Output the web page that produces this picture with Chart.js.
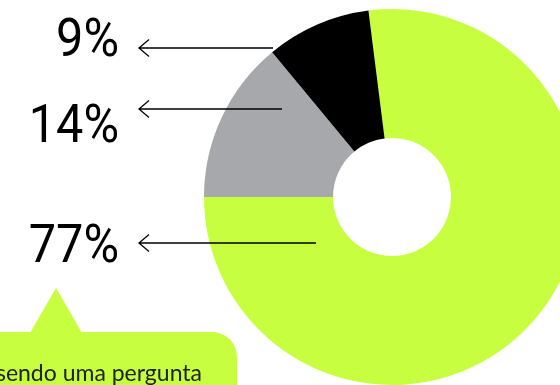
<!DOCTYPE html>
<html>
<head>
<meta charset="utf-8">
<script src="https://cdn.jsdelivr.net/npm/chart.js@4"></script>
<style>
  html, body { margin: 0; padding: 0; background: #fff; }
  body { width: 560px; height: 385px; overflow: hidden; position: relative; }
  #wrap { position: absolute; left: 0; top: 0; width: 600px; height: 400px; }
</style>
</head>
<body>
<div id="wrap"><canvas id="pizza" width="600" height="400"></canvas></div>
<script>
// respostas
const categorias = ["Sim", "Não sei", "Não"];
const valores = [77, 14, 9];
const cores = ["#c7ff40", "#a7a8ac", "#000000"];
const textoBalao = "sendo uma pergunta";

// posicoes das etiquetas: [indice do valor, baseline do texto, y da seta, fim da seta]
const etiquetas = [
  [2, 56, 48, 273],
  [1, 142, 109, 282],
  [0, 262, 243, 316]
];

const rotulos = {
  id: "rotulos",
  afterDraw(chart) {
    const ctx = chart.ctx;
    ctx.save();

    // numeros grandes + setas
    ctx.fillStyle = "#000";
    ctx.textAlign = "right";
    ctx.textBaseline = "alphabetic";
    etiquetas.forEach(function (e) {
      // fonte um pouco estreitada
      ctx.save();
      ctx.translate(119, e[1]);
      ctx.scale(0.9, 1);
      ctx.font = "400 54px Roboto, 'DejaVu Sans'";
      ctx.fillText(valores[e[0]] + "%", 0, 0);
      ctx.restore();

      ctx.strokeStyle = "#000";
      ctx.lineWidth = 1.3;
      ctx.beginPath();
      ctx.moveTo(139, e[2]);
      ctx.lineTo(e[3], e[2]);
      ctx.moveTo(149, e[2] - 8.5);
      ctx.lineTo(139, e[2]);
      ctx.lineTo(149, e[2] + 8.5);
      ctx.stroke();
    });

    // balao
    ctx.fillStyle = "#c7ff40";
    ctx.beginPath();
    ctx.moveTo(56, 288);
    ctx.lineTo(82, 333);
    ctx.lineTo(30, 333);
    ctx.closePath();
    ctx.fill();
    ctx.beginPath();
    ctx.roundRect(-30, 332, 267, 80, 25);
    ctx.fill();

    ctx.font = "400 23px Lato";
    ctx.fillStyle = "#222";
    ctx.textAlign = "right";
    ctx.fillText(textoBalao, 202, 381);
    ctx.restore();
  }
};

function desenhar() {
  new Chart(document.getElementById("pizza"), {
    type: 'doughnut',
    data: {
      labels: categorias,
      datasets: [{
        data: valores,
        backgroundColor: cores,
        borderWidth: 0,
        hoverOffset: 0
      }]
    },
    options: {
      responsive: false,
      animation: false,
      rotation: -7.2,
      cutout: 59,
      layout: {
        padding: { left: 204, top: 9, right: 20, bottom: 15 }
      },
      plugins: {
        legend: { display: false },
        tooltip: { enabled: false }
      }
    },
    plugins: [rotulos]
  })
}

Promise.all([
  document.fonts.load("400 54px Roboto"),
  document.fonts.load("400 23px Lato")
]).then(desenhar, desenhar);
</script>
</body>
</html>
